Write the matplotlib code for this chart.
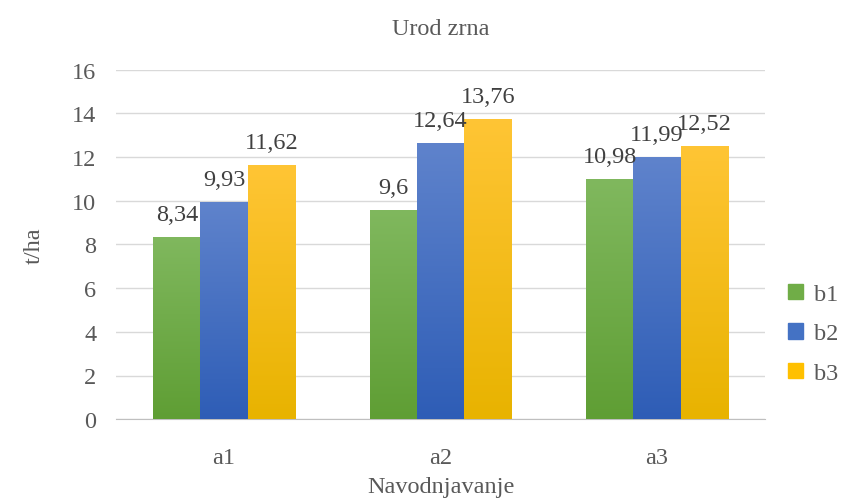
import numpy as np
import matplotlib.pyplot as plt
from matplotlib.colors import LinearSegmentedColormap

categories = ["a1", "a2", "a3"]
series = ["b1", "b2", "b3"]
b1 = [8.34, 9.6, 10.98]
b2 = [9.93, 12.64, 11.99]
b3 = [11.62, 13.76, 12.52]
yticks = [0, 2, 4, 6, 8, 10, 12, 14, 16]

# top colour, bottom colour
colors = {
    "b1": ("#80b85e", "#5f9e34"),
    "b2": ("#5f83cc", "#2e5db6"),
    "b3": ("#ffc535", "#e8b300"),
}
legend_colors = {"b1": "#70ad47", "b2": "#4472c4", "b3": "#ffc000"}

plt.rcParams["font.family"] = ["Liberation Serif", "DejaVu Serif"]
text_color = "#595959"
fs = 17.5

fig = plt.figure(figsize=(8.68, 5.02), dpi=100)
ax = fig.add_axes([0.1335, 0.163, 0.748, 0.696])

x = np.arange(len(categories))
width = 0.218
values = {"b1": b1, "b2": b2, "b3": b3}
for i, name in enumerate(series):
    offs = (i - 1) * width
    top_c, bot_c = colors[name]
    cmap = LinearSegmentedColormap.from_list(name, [bot_c, top_c])
    bars = ax.bar(x + offs, values[name], width, color=legend_colors[name],
                  label=name, zorder=2)
    for bar, v in zip(bars, values[name]):
        grad = np.linspace(0, 1, 256).reshape(-1, 1)
        im = ax.imshow(grad, cmap=cmap, origin="lower", aspect="auto",
                       extent=[bar.get_x(), bar.get_x() + width, 0, v],
                       zorder=3)
        im.set_clip_path(bar)
        ax.text(bar.get_x() + width / 2, v + 0.55,
                f"{v:g}".replace(".", ","), ha="center", va="bottom",
                fontsize=fs, color="#404040", zorder=4)

ax.set_xlim(-0.5, 2.5)
ax.set_ylim(0, 16)
ax.set_yticks(yticks)
ax.set_xticks(x)
ax.set_xticklabels(categories)
ax.tick_params(axis="both", length=0, labelsize=fs, colors=text_color)
ax.tick_params(axis="y", pad=14)
ax.tick_params(axis="x", pad=20)
ax.grid(axis="y", color="#d9d9d9", linewidth=1, zorder=0)
for s in ["top", "right", "left"]:
    ax.spines[s].set_visible(False)
ax.spines["bottom"].set_color("#bfbfbf")

ax.set_title("Urod zrna", fontsize=fs, color=text_color, pad=26)
ax.set_ylabel("t/ha", fontsize=fs, color=text_color, labelpad=20)
ax.set_xlabel("Navodnjavanje", fontsize=fs, color=text_color, labelpad=6)

handles = [plt.Rectangle((0, 0), 1, 1, color=legend_colors[n]) for n in series]
fig.legend(handles, series, loc="center left", bbox_to_anchor=(0.908, 0.333),
           frameon=False, fontsize=fs, labelcolor=text_color,
           handlelength=0.6, handleheight=0.6, handletextpad=0.45,
           labelspacing=0.75, borderpad=0, borderaxespad=0)

fig.savefig("out.png", dpi=100)
